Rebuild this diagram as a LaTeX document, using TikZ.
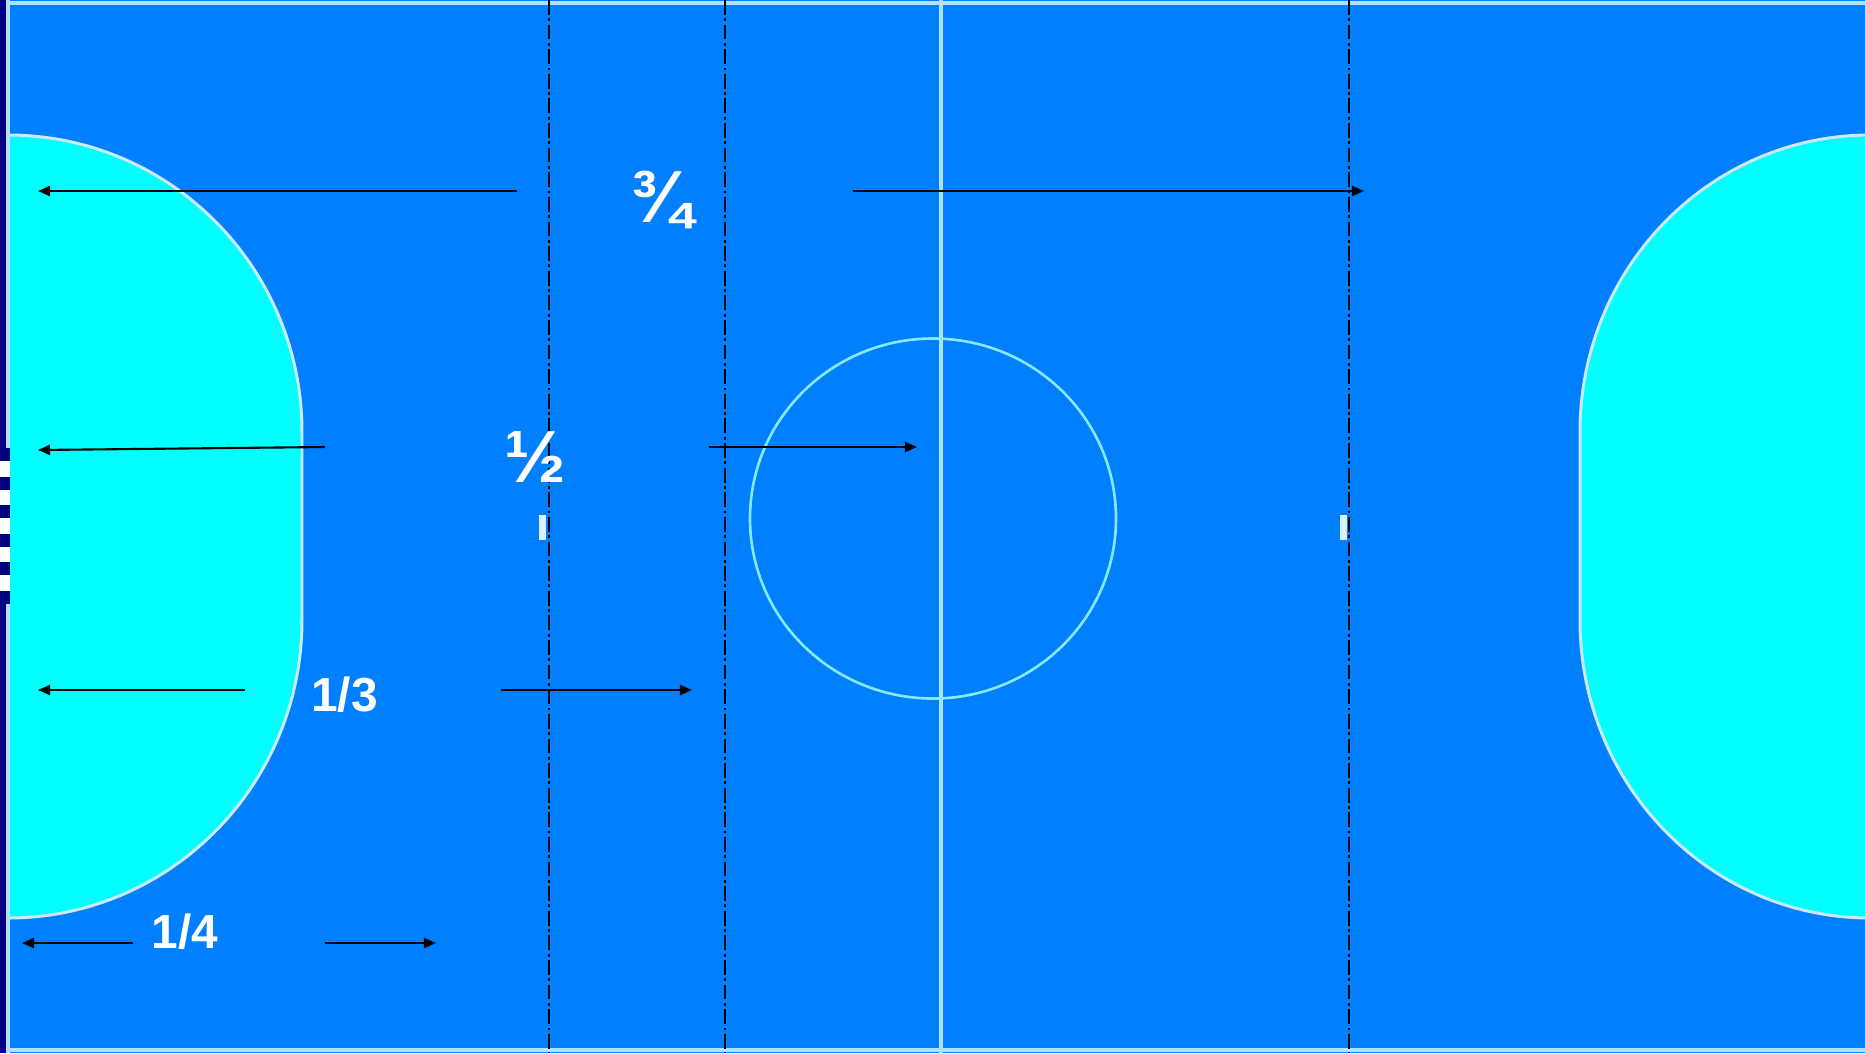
\documentclass[tikz,border=0pt]{standalone}
\usepackage{fontspec}
\setmainfont{Liberation Sans}
\usetikzlibrary{arrows.meta}
\definecolor{courtblue}{HTML}{007FFF}
\definecolor{areacyan}{HTML}{00FFFF}
\definecolor{courtline}{HTML}{B4E0FF}
\definecolor{goalnavy}{HTML}{000080}
\tikzset{
  measure/.style={-{Triangle[length=.12cm,width=.1cm]},line width=.6pt},
  guide/.style={line width=.5pt,dash pattern=on 4.2pt off 1pt on .8pt off 1pt},
  fraction/.style={font=\bfseries,text=white,inner sep=0pt},
  marking/.style={courtline,line width=1.2pt},
  arealine/.style={draw=courtline!70!white,line width=.85pt,fill=areacyan},
}
\begin{document}
\begin{tikzpicture}[x=.01cm,y=-.01cm]
 \useasboundingbox (0,0) rectangle (1865,1053);
 \fill[courtblue] (0,0) rectangle (1865,1053);
 % penalty areas
 \draw[arealine] (8,135)
   arc[start angle=-90,end angle=0,x radius=294,y radius=297] -- (302,620)
   arc[start angle=0,end angle=90,x radius=294,y radius=298] -- cycle;
 \draw[arealine] (1870,135)
   arc[start angle=-90,end angle=-180,x radius=290,y radius=297] -- (1580,620)
   arc[start angle=180,end angle=90,x radius=290,y radius=298] -- cycle;
 % court lines
 \draw[marking] (0,3) -- (1865,3);
 \draw[marking] (0,1050) -- (1865,1050);
 \draw[marking] (8,0) -- (8,1053);
 \draw[marking] (941,0) -- (941,1053);
 \draw[marking,line width=.75pt,courtline!75!areacyan] (933,518.5) circle[x radius=183,y radius=180];
 \foreach \x in {542.5,1343}{%
   \fill[courtline!50!white] (\x-3.5,515) rectangle (\x+3.5,540);
 }
 % goal
 \fill[goalnavy] (0,0) rectangle (6,1053);
 \foreach \y in {448,476.5,505,533.5,562}{%
   \fill[goalnavy] (0,\y) rectangle (10,\y+13);
   \fill[white] (0,\y+13) rectangle (10,\y+28.5);
 }
 \fill[goalnavy] (0,590.5) rectangle (10,604);
 % dividing lines
 \foreach \x in {549,725,1349}{%
   \draw[guide] (\x,0) -- (\x,1053);
 }
 % measures
 \foreach \name/\ax/\ay/\bx/\by in {a/517/191/38/191,b/853/191/1364/191,c/325/447/38/450,d/709/447/917/447,e/245/690/38/690,f/501/690/692/690,g/133/943/22/943,h/325/943/436/943}{%
   \coordinate (\name1) at (\ax,\ay);
   \coordinate (\name2) at (\bx,\by);
   \draw[measure] (\name1) -- (\name2);
 }
 \node[fraction,font=\bfseries\fontsize{21}{21}\selectfont] (threequarters) at (661,200) {¾};
 \node[fraction,font=\bfseries\fontsize{21}{21}\selectfont] (onehalf) at (535,457) {½};
 \node[fraction,font=\bfseries\fontsize{13.6}{14}\selectfont] (onethird) at (344.5,695) {1/3};
 \node[fraction,font=\bfseries\fontsize{13.6}{14}\selectfont] (onequarter) at (185,932) {1/4};
\end{tikzpicture}
\end{document}
